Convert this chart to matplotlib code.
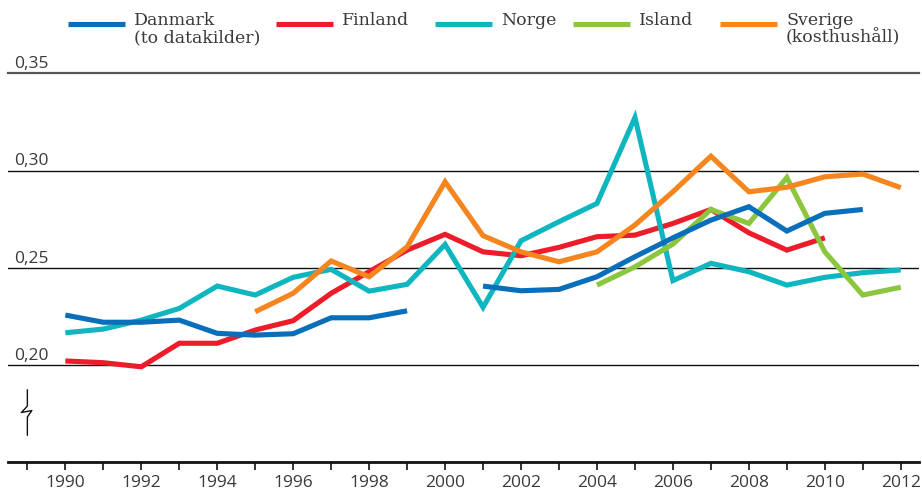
import numpy as np
import matplotlib.pyplot as plt
from matplotlib.lines import Line2D
from matplotlib.transforms import blended_transform_factory

nan = np.nan
years = list(range(1990, 2013))

danmark = [0.2257, 0.2220, 0.2220, 0.2231, 0.2163, 0.2154, 0.2161, 0.2243, 0.2243, 0.2279, nan,
           0.2406, 0.2382, 0.2389, 0.2454, 0.2557, 0.2654, 0.2745, 0.2814, 0.2689, 0.2780, 0.2800, nan]
finland = [0.2021, 0.2012, 0.1991, 0.2112, 0.2112, 0.2180, 0.2228, 0.2369, 0.2480, 0.2591, 0.2672,
           0.2582, 0.2562, 0.2605, 0.2660, 0.2668, 0.2728, 0.2800, 0.2680, 0.2591, 0.2654, nan, nan]
norge = [0.2166, 0.2185, 0.2231, 0.2291, 0.2406, 0.2360, 0.2451, 0.2492, 0.2380, 0.2415, 0.2620,
         0.2297, 0.2639, 0.2737, 0.2831, 0.3273, 0.2434, 0.2523, 0.2480, 0.2411, 0.2451, 0.2475, 0.2489]
island = [nan] * 14 + [0.2411, 0.2505, 0.2622, 0.2800, 0.2728, 0.2964, 0.2582, 0.2360, 0.2400]
sverige = [nan] * 5 + [0.2274, 0.2369, 0.2535, 0.2454, 0.2608, 0.2942, 0.2665, 0.2582, 0.2531,
                       0.2582, 0.2720, 0.2891, 0.3074, 0.2891, 0.2914, 0.2968, 0.2982, 0.2912]

labels = ["Danmark\n(to datakilder)", "Finland", "Norge", "Island", "Sverige\n(kosthushåll)"]
series = [danmark, finland, norge, island, sverige]
colors = ["#0a6fba", "#ec1c2a", "#10b6bf", "#8cc63f", "#f5861f"]

grid_values = [0.20, 0.25, 0.30, 0.35]
grid_labels = ["0,20", "0,25", "0,30", "0,35"]

sans = "Open Sans"
serif = "DejaVu Serif"
txt = "#3a3a3a"

fig = plt.figure(figsize=(9.22, 4.93), dpi=100)
ax = fig.add_axes([8 / 922, 1 - 462.3 / 493, 911 / 922, (462.3 - 73.3) / 493])

# draw order: red, cyan, green, orange, blue on top
for k, i in enumerate([1, 2, 3, 4, 0]):
    ax.plot(years, series[i], color=colors[i], lw=3.7, solid_capstyle="butt",
            solid_joinstyle="miter", zorder=3 + k * 0.1)

ax.set_xlim(1988.49, 2012.48)
ax.set_ylim(0.15, 0.35)

# horizontal reference lines with labels above them
trans = blended_transform_factory(ax.transAxes, ax.transData)
for v, lab in zip(grid_values, grid_labels):
    if v == 0.35:
        ax.axhline(v, color="#555555", lw=1.6, zorder=2, clip_on=False)
    else:
        ax.axhline(v, color="#111111", lw=1.0, zorder=2)
    ax.text(0.0066, v + 0.0026, lab, transform=trans, fontsize=12.5, family=sans,
            color=txt, ha="left", va="baseline")

for s in ["top", "right", "left"]:
    ax.spines[s].set_visible(False)
ax.spines["bottom"].set_linewidth(2.0)
ax.spines["bottom"].set_color("#111111")
ax.set_yticks([])

ax.set_xticks(range(1990, 2013, 2))
ax.set_xticks(range(1989, 2013), minor=True)
ax.tick_params(axis="x", which="both", direction="out", length=6, width=1.2, color="#111111")
ax.tick_params(axis="x", which="major", pad=3, labelsize=12.5, labelcolor=txt)
for t in ax.get_xticklabels():
    t.set_family(sans)

# axis break symbol
bx = 1989
ax.plot([bx, bx, bx - 0.158, bx + 0.118, bx, bx],
        [0.1872, 0.1789, 0.1756, 0.1766, 0.1733, 0.1640],
        color="#111111", lw=1.0, clip_on=False, zorder=2)

# legend across the top
leg_x = [68, 276, 435, 573, 720]
for x0, lab, c in zip(leg_x, labels, colors):
    y = 1 - 24.3 / 493
    fig.add_artist(Line2D([x0 / 922, (x0 + 57) / 922], [y, y], color=c, lw=3.7,
                          solid_capstyle="butt"))
    fig.text((x0 + 66) / 922, 1 - 12 / 493, lab, fontsize=12.5, family=serif, color=txt,
             ha="left", va="top", linespacing=1.0)

fig.savefig("out.png", dpi=100)
